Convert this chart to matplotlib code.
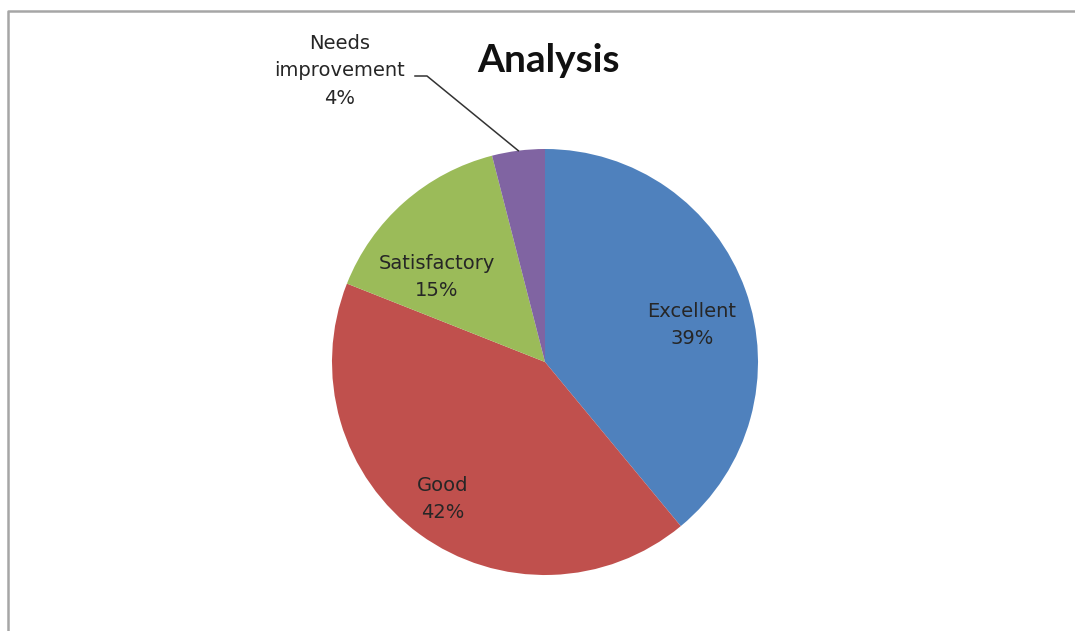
import numpy as np
import matplotlib.pyplot as plt

categorias = ["Excellent", "Good", "Satisfactory", "Needs\nimprovement"]
porcentajes = [39, 42, 15, 4]
colores = ["#4F81BD", "#C0504D", "#9BBB59", "#8064A2"]

W, H = 1075, 631
fig = plt.figure(figsize=(W / 100, H / 100), dpi=100)
ax = fig.add_axes([0, 0, 1, 1])

# centro y radio del pastel en pixeles (y hacia arriba)
cx, cy, R = 545, H - 362, 213
wedges, _ = ax.pie(porcentajes, colors=colores, startangle=90, counterclock=False,
                   center=(cx, cy), radius=R, frame=True)
ax.set_xlim(0, W)
ax.set_ylim(0, H)
ax.axis("off")

# posiciones de las etiquetas (layout)
pos_etiquetas = [(692, 325), (443, 499), (437, 277), (340, 71)]
for cat, pct, (px, py) in zip(categorias, porcentajes, pos_etiquetas):
    ax.text(px, H - py, f"{cat}\n{pct}%", ha="center", va="center",
            fontsize=14, color="#262626", linespacing=1.55, family="DejaVu Sans")

# linea guia para "Needs improvement"
w = wedges[3]
ang = np.deg2rad((w.theta1 + w.theta2) / 2)
x0, y0 = cx + R * np.cos(ang), cy + R * np.sin(ang)
ax.plot([x0, 427, 415], [y0, H - 76, H - 76], color="#333333", lw=1.1)

ax.text(548, H - 60, "Analysis", ha="center", va="center", fontsize=28,
        fontweight="bold", family="Lato", color="#111111")

# marco gris
ax.plot([8, 8, W + 5], [-5, H - 11, H - 11], color="#A6A6A6", lw=1.8)

plt.savefig("out.png", dpi=100)
